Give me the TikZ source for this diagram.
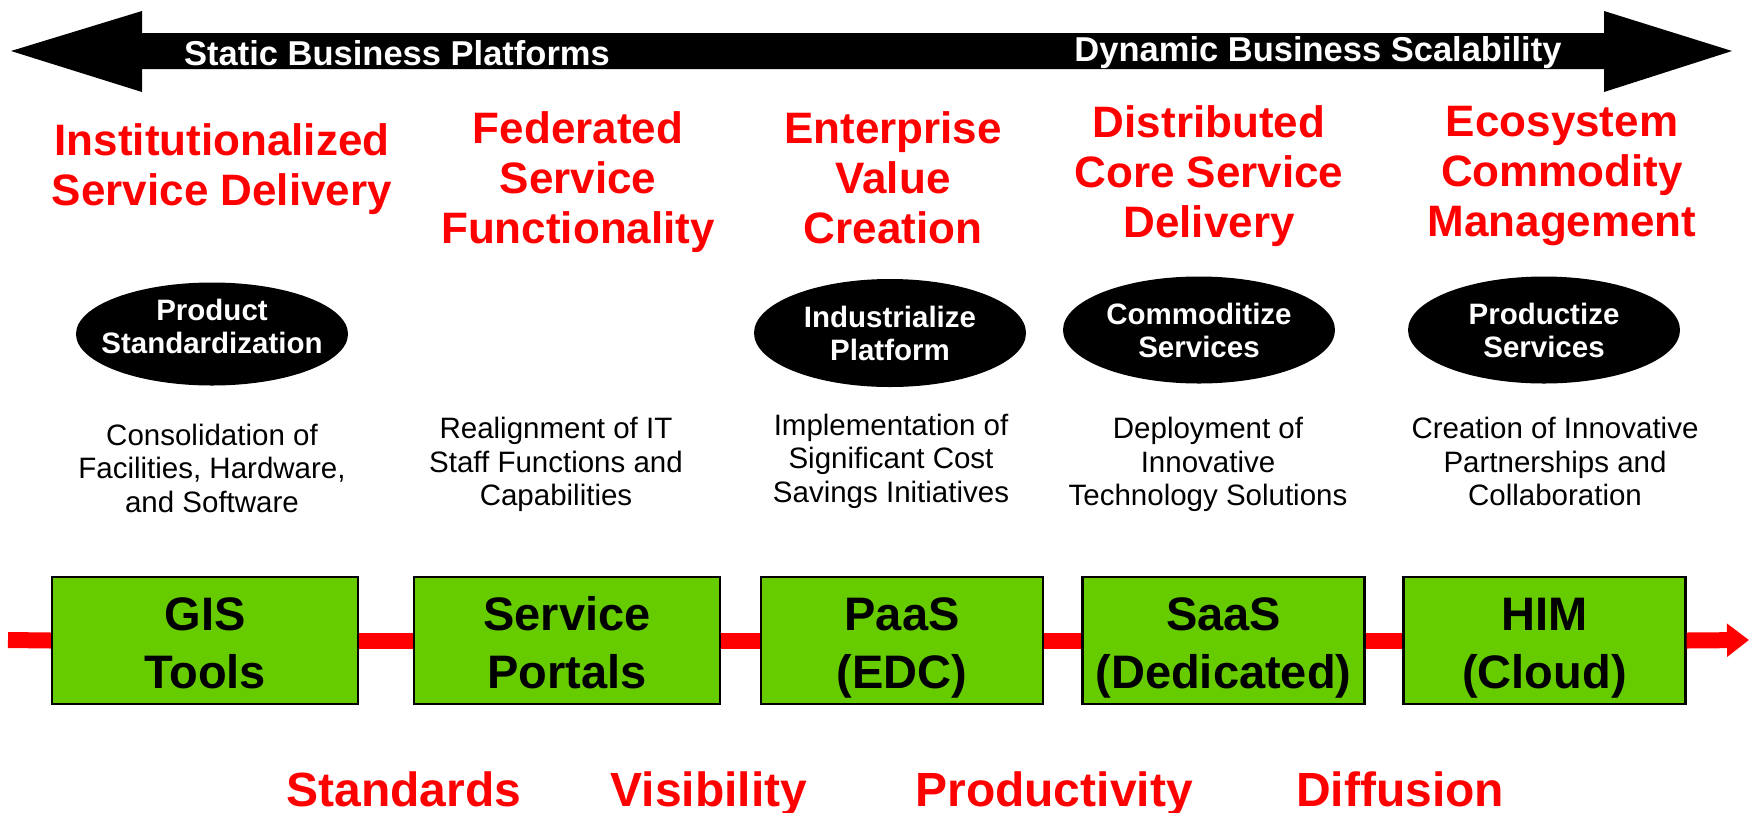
\documentclass[tikz,border=0pt]{standalone}
\usepackage{fontspec}
\setmainfont{Liberation Sans}
\usetikzlibrary{shapes.geometric,arrows.meta}
\definecolor{boxgreen}{HTML}{66CC00}
\newcommand{\bxs}{\rule[-9.5pt]{0pt}{57.5pt}}
\begin{document}
\begin{tikzpicture}[x=1pt,y=-1pt,
  head/.style={text=red,font=\fontsize{44}{50}\selectfont\bfseries,align=center,inner sep=0},
  oval/.style={ellipse,fill=black,minimum width=272pt,minimum height=105pt,inner sep=0},
  ovaltext/.style={text=white,font=\fontsize{29.5}{33}\selectfont\bfseries,align=center,inner sep=0},
  desc/.style={font=\fontsize{29.5}{33.5}\selectfont,align=center,inner sep=0},
  stage/.style={draw=black,line width=2.2pt,fill=boxgreen,minimum width=306pt,minimum height=127pt,font=\fontsize{47}{58}\selectfont\bfseries,align=center,inner sep=0},
  narrow/.style={minimum width=282pt},
  redline/.style={draw=red,line width=16pt},
  outcome/.style={text=red,font=\fontsize{48}{56}\selectfont\bfseries,inner sep=0,anchor=base},
  bandtext/.style={text=white,font=\fontsize{34.5}{36}\selectfont\bfseries,inner sep=0}
]
\useasboundingbox (0,0) rectangle (1750,812);

% top double arrow
\fill[black] (11,51) -- (142,11) -- (142,33) -- (1604,33) -- (1604,11) -- (1732,51)
  -- (1604,92) -- (1604,69) -- (142,69) -- (142,92) -- cycle;
\node[bandtext] (static) at (397,53) {Static Business Platforms};
\node[bandtext] (dynamic) at (1318,53) {Dynamic Business Scalability};

% headings
\node[head] (h1) at (222,169) {Institutionalized\\Service Delivery};
\node[head] (h2) at (578,182) {Federated\\Service\\Functionality};
\node[head] (h3) at (893,178) {Enterprise\\Value\\Creation};
\node[head] (h4) at (1209,176) {Distributed\\Core Service\\Delivery};
\node[head] (h5) at (1562,176) {Ecosystem\\Commodity\\Management};

% ovals
\node[oval,minimum height=103pt] (o1) at (212,334) {};
\node[ovaltext] (t1) at (212,326) {Product\\Standardization};
\node[oval,minimum height=108pt] (o3) at (890,333) {};
\node[ovaltext] (t3) at (890,333) {Industrialize\\Platform};
\node[oval,minimum height=107pt] (o4) at (1199,330) {};
\node[ovaltext] (t4) at (1199,330) {Commoditize\\Services};
\node[oval,minimum height=107pt] (o5) at (1544,330) {};
\node[ovaltext] (t5) at (1544,330) {Productize\\Services};

% descriptions
\node[desc] (d1) at (212,472) {Consolidation of\strut\\Facilities, Hardware,\strut\\and Software\strut};
\node[desc] (d2) at (556,465.3) {Realignment of IT\strut\\Staff Functions and\strut\\Capabilities\strut};
\node[desc] (d3) at (891,462) {Implementation of\strut\\Significant Cost\strut\\Savings Initiatives\strut};
\node[desc] (d4) at (1208,465.3) {Deployment of\strut\\Innovative\strut\\Technology Solutions\strut};
\node[desc] (d5) at (1555,465.3) {Creation of Innovative\strut\\Partnerships and\strut\\Collaboration\strut};

% stages
\coordinate (start) at (8,640);
\coordinate (end) at (1749,640);
\node[stage] (b1) at (205,640.5) {GIS\bxs\\Tools\bxs};
\node[stage] (b2) at (567,640.5) {Service\bxs\\Portals\bxs};
\node[stage,narrow] (b3) at (902,640.5) {PaaS\bxs\\(EDC)\bxs};
\node[stage,narrow] (b4) at (1223.5,640.5) {SaaS\bxs\\(Dedicated)\bxs};
\node[stage,narrow] (b5) at (1544.5,640.5) {HIM\bxs\\(Cloud)\bxs};

\draw[redline] (start) -- (b1.west);
\draw[redline] (b1.east) -- (b2.west);
\draw[redline] (b2.east) -- (b3.west);
\draw[redline] (b3.east) -- (b4.west);
\draw[redline] (b4.east) -- (b5.west);
\draw[redline,-{Triangle[length=22pt,width=32pt]}] (b5.east) -- (end);

% outcomes
\node[outcome] (s1) at (404,806) {Standards};
\node[outcome] (s2) at (709,806) {Visibility};
\node[outcome] (s3) at (1054,806) {Productivity};
\node[outcome] (s4) at (1400,806) {Diffusion};
\end{tikzpicture}
\end{document}
